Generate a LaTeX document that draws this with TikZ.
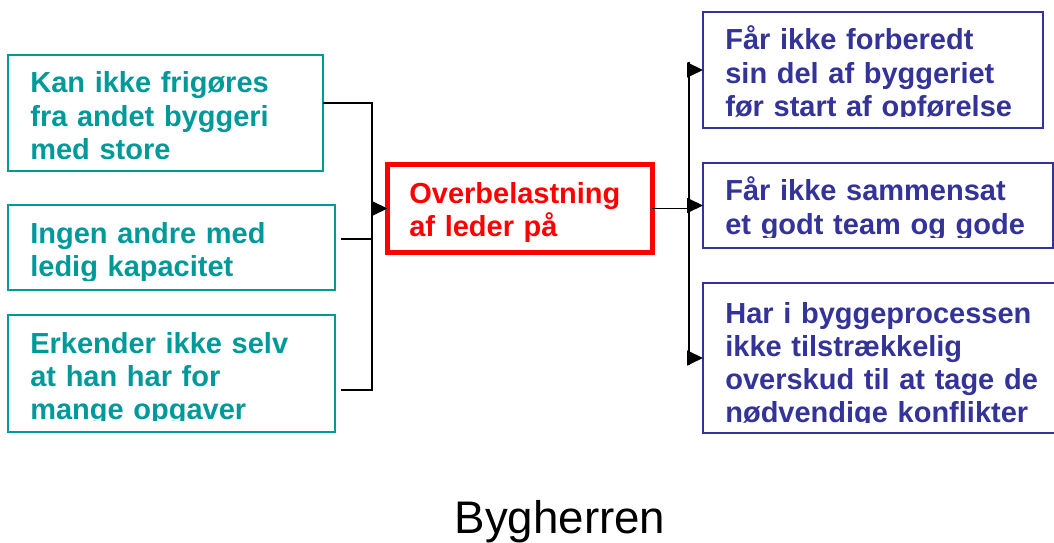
\documentclass[tikz,border=0pt]{standalone}
\usepackage{fontspec}
\setmainfont{Liberation Sans}
\usetikzlibrary{arrows.meta}
\usetikzlibrary{positioning}
\usetikzlibrary{calc}

\definecolor{causecol}{RGB}{0,153,153}
\definecolor{effectcol}{RGB}{51,51,153}

\tikzset{
  cause/.style={draw=causecol, line width=1.1pt, rectangle, inner sep=0pt, outer sep=0pt, anchor=north west},
  effect/.style={draw=effectcol, line width=1.1pt, rectangle, inner sep=0pt, outer sep=0pt, anchor=north west},
  problem/.style={draw=red, line width=2.8pt, rectangle, inner sep=0pt, outer sep=0pt, anchor=north west},
  boxtext/.style={anchor=base west, inner sep=0pt, align=left, text width=7cm,
    font=\bfseries\fontsize{16.5}{18.8}\selectfont},
  link/.style={line width=1pt},
  arr/.style={-{Triangle[length=0.32cm,width=0.3cm]}, line width=1pt}
}

\begin{document}
\begin{tikzpicture}[x=0.02cm, y=-0.02cm]
	\useasboundingbox (0,0) rectangle (1054,542);
	\clip (0,0) rectangle (1054,542);
	
	% boxes
	\node[cause, minimum width=6.3cm, minimum height=2.32cm] (l1) at (8,55) {};
	\node[cause, minimum width=6.54cm, minimum height=1.7cm] (l2) at (8,205) {};
	\node[cause, minimum width=6.54cm, minimum height=2.34cm] (l3) at (8,315) {};
	\node[problem, minimum width=5.3cm, minimum height=1.76cm] (red) at (387.5,164.5) {};
	\node[effect, minimum width=6.8cm, minimum height=2.32cm] (r1) at (703,12) {};
	\node[effect, minimum width=7.0cm, minimum height=1.7cm] (r2) at (703,163) {};
	\node[effect, minimum width=7.3cm, minimum height=3.0cm] (r3) at (703,283) {};
	
	% texts
	\node[boxtext, text=causecol] (t1) at ([xshift=0.44cm, yshift=-0.76cm]l1.north west) {Kan ikke frigøres\\fra andet byggeri\\med store};
	\begin{scope}
		\clip (l2.north west) rectangle ([yshift=0.18cm]l2.south east);
		\node[boxtext, text=causecol] (t2) at ([xshift=0.44cm, yshift=-0.76cm]l2.north west) {Ingen andre med\\ledig kapacitet};
	\end{scope}
	\begin{scope}
		\clip (l3.north west) rectangle ([yshift=0.22cm]l3.south east);
		\node[boxtext, text=causecol] (t3) at ([xshift=0.44cm, yshift=-0.76cm]l3.north west) {Erkender ikke selv\\at han har for\\mange opgaver};
	\end{scope}
	\node[boxtext, text=red] (tr) at ([xshift=0.43cm, yshift=-0.77cm]red.north west) {Overbelastning\\af leder på};
	\begin{scope}
		\clip (r1.north west) rectangle ([yshift=0.22cm]r1.south east);
		\node[boxtext, text=effectcol] (s1) at ([xshift=0.44cm, yshift=-0.76cm]r1.north west) {Får ikke forberedt\\sin del af byggeriet\\før start af opførelse};
	\end{scope}
	\begin{scope}
		\clip (r2.north west) rectangle ([yshift=0.2cm]r2.south east);
		\node[boxtext, text=effectcol] (s2) at ([xshift=0.44cm, yshift=-0.76cm]r2.north west) {Får ikke sammensat\\et godt team og gode};
	\end{scope}
	\begin{scope}
		\clip (r3.north west) rectangle ([yshift=0.2cm]r3.south east);
		\node[boxtext, text=effectcol] (s3) at ([xshift=0.44cm, yshift=-0.8cm]r3.north west) {Har i byggeprocessen\\ikke tilstrækkelig\\overskud til at tage de\\nødvendige konflikter};
	\end{scope}
	
	% connectors left
	\coordinate (busL) at (red.west -| 372,0);
	\coordinate (jl1) at ([yshift=0.2cm]l1.east);
	\coordinate (jl2) at ([xshift=0.12cm, yshift=0.17cm]l2.east);
	\coordinate (jl3) at ([xshift=0.12cm, yshift=-0.33cm]l3.east);
	\draw[link] (jl1) -| (busL) |- (jl3);
	\draw[link] (jl2) -- (jl2 -| busL);
	\draw[arr] (busL) -- (red.west);
	
	% connectors right
	\coordinate (busR) at (red.east -| 689,0);
	\draw[link] (red.east) -- (busR);
	\draw[link] ([yshift=0.15cm]busR |- r1.west) -- ([yshift=-0.15cm]busR |- r3.west);
	\foreach \n in {r1,r2,r3}
		\draw[arr] (busR |- \n.west) -- (\n.west);
	
	\node[anchor=base, font=\fontsize{26}{30}\selectfont] (title) at (560,533) {Bygherren};
\end{tikzpicture}
\end{document}
